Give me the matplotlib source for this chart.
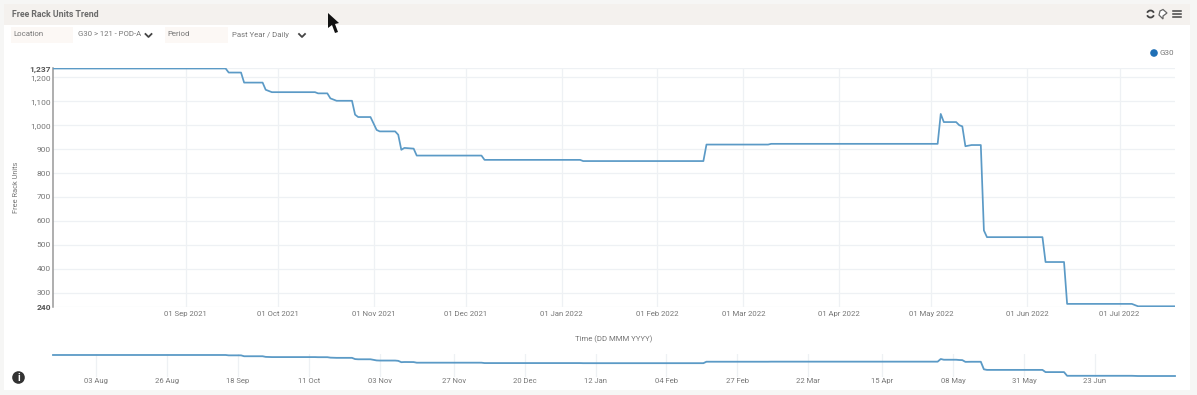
import matplotlib
matplotlib.use("Agg")
import matplotlib.dates as mdates
import matplotlib.pyplot as plt
import pandas as pd
from matplotlib.patches import Arc, Circle, Polygon, Rectangle

plt.rcParams['font.family'] = ['Roboto', 'DejaVu Sans']

WIDTH, HEIGHT = 1197, 395
TEXT = "#777777"
LINE = "#5b9ac6"
GRID = "#eef1f4"

dates = ["2021-07-20", "2021-09-14", "2021-09-15", "2021-09-19", "2021-09-20", "2021-09-26",
         "2021-09-27", "2021-09-29", "2021-10-13", "2021-10-14", "2021-10-17", "2021-10-18",
         "2021-10-20", "2021-10-25", "2021-10-26", "2021-10-27", "2021-10-31", "2021-11-02",
         "2021-11-03", "2021-11-08", "2021-11-09", "2021-11-10", "2021-11-11", "2021-11-14",
         "2021-11-15", "2021-12-06", "2021-12-07", "2022-01-07", "2022-01-08", "2022-02-16",
         "2022-02-17", "2022-03-09", "2022-03-10", "2022-05-03", "2022-05-04", "2022-05-05",
         "2022-05-09", "2022-05-10", "2022-05-11", "2022-05-12", "2022-05-14", "2022-05-17",
         "2022-05-18", "2022-05-19", "2022-06-06", "2022-06-07", "2022-06-13", "2022-06-14",
         "2022-07-05", "2022-07-07", "2022-07-19"]
free_units = [1237, 1237, 1220, 1220, 1178, 1178,
              1148, 1138, 1138, 1133, 1133, 1112,
              1102, 1102, 1044, 1034, 1034, 980,
              974, 974, 960, 897, 905, 902,
              873, 873, 855, 855, 850, 850,
              919, 919, 922, 922, 1047, 1013,
              1013, 1000, 995, 912, 917, 917,
              560, 532, 532, 428, 428, 253,
              253, 243, 243]

main_ticks = ["2021-09-01", "2021-10-01", "2021-11-01", "2021-12-01", "2022-01-01", "2022-02-01",
              "2022-03-01", "2022-04-01", "2022-05-01", "2022-06-01", "2022-07-01"]
nav_ticks = ["2021-08-03", "2021-08-26", "2021-09-18", "2021-10-11", "2021-11-03", "2021-11-27",
             "2021-12-20", "2022-01-12", "2022-02-04", "2022-02-27", "2022-03-22", "2022-04-15",
             "2022-05-08", "2022-05-31", "2022-06-23"]
y_ticks = [240, 300, 400, 500, 600, 700, 800, 900, 1000, 1100, 1200, 1237]


def px_axes(fig, left, top, right, bottom):
    """Axes placed by reference pixel edges"""
    return fig.add_axes([left / WIDTH, 1 - bottom / HEIGHT, (right - left) / WIDTH, (bottom - top) / HEIGHT])


x = pd.to_datetime(dates)
x_start, x_end = pd.Timestamp("2021-07-20"), pd.Timestamp("2022-07-19")

fig = plt.figure(figsize=(WIDTH / 100, HEIGHT / 100), dpi=100, facecolor="#f6f6f5")

# page furniture in pixel coordinates
bg = fig.add_axes([0, 0, 1, 1], zorder=0)
bg.set_xlim(0, WIDTH)
bg.set_ylim(HEIGHT, 0)
bg.axis("off")
bg.add_patch(Rectangle((4, 4), 1186, 386, fc="white", ec="none"))
bg.add_patch(Rectangle((4, 4), 1186, 21, fc="#f4f1ee", ec="none"))
bg.add_patch(Rectangle((11, 27), 62, 16, fc="#fcf8f5", ec="none"))
bg.add_patch(Rectangle((165, 27), 63, 16, fc="#fcf8f5", ec="none"))
bg.text(11.5, 14.5, "Free Rack Units Trend", fontsize=6.3, fontweight="bold", color="#6a6a6a", va="center")
bg.text(13, 34.5, "Location", fontsize=5.7, color=TEXT, va="center")
bg.text(78, 34.5, "G30 > 121 - POD-A", fontsize=5.6, color=TEXT, va="center")
bg.text(167, 34.5, "Period", fontsize=5.7, color=TEXT, va="center")
bg.text(232, 34.5, "Past Year / Daily", fontsize=5.6, color=TEXT, va="center")
for cx in (148.5, 302):
    bg.plot([cx - 3, cx, cx + 3], [34, 37, 34], color="#444444", lw=1.3)

# header icons
bg.add_patch(Arc((1150.5, 14), 7, 7, theta1=20, theta2=160, ec="#444444", lw=1.3))
bg.add_patch(Arc((1150.5, 14), 7, 7, theta1=200, theta2=340, ec="#444444", lw=1.3))
bg.add_patch(Polygon([(1163, 9.5), (1167, 13), (1163, 16), (1163, 19), (1159, 15), (1160, 11)],
                     fc="white", ec="#666666", lw=0.9))
for hy in (11, 14, 17):
    bg.plot([1173, 1181], [hy, hy], color="#444444", lw=1.1)

# legend
bg.add_patch(Circle((1154, 53), 3.8, fc="#1f6fb5", ec="none"))
bg.text(1160, 53, "G30", fontsize=5.8, color=TEXT, va="center")

# info icon and mouse cursor
bg.add_patch(Circle((18.5, 377.5), 6.3, fc="#333333", ec="none"))
bg.text(18.5, 377.7, "i", fontsize=7.5, fontweight="bold", color="white", ha="center", va="center")
bg.add_patch(Polygon([(328, 13), (328, 28), (332, 25), (335, 33), (338, 32), (335, 24), (339, 23)],
                     fc="#111111", ec="none", zorder=5))

# main chart, small headroom so the flat top of the line stays visible
ax = px_axes(fig, 53, 68, 1175, 307)
ax.patch.set_alpha(0)
ax.plot(x, free_units, color=LINE, lw=1.25, solid_joinstyle="round", zorder=3)
ax.set_xlim(x_start, x_end)
ax.set_ylim(240, 1239)
ax.set_yticks(y_ticks)
ax.set_yticklabels([f"{v:,}" for v in y_ticks], fontsize=6, color=TEXT)
for label in (ax.get_yticklabels()[0], ax.get_yticklabels()[-1]):
    label.set_fontweight("bold")
    label.set_color("#555555")
ax.set_xticks(pd.to_datetime(main_ticks))
ax.xaxis.set_major_formatter(mdates.DateFormatter("%d %b %Y"))
ax.tick_params(axis="x", length=0, pad=3, labelsize=5.6, labelcolor=TEXT)
ax.tick_params(axis="y", length=0, pad=1.5)
ax.grid(True, color=GRID, lw=0.9)
ax.set_axisbelow(True)
for side in ("top", "right", "bottom"):
    ax.spines[side].set_visible(False)
ax.spines["left"].set_color("#999999")
ax.spines["left"].set_linewidth(1.1)
bg.text(16, 187.5, "Free Rack Units", fontsize=5.3, color=TEXT, rotation=90, ha="center", va="center")
bg.text(614, 339, "Time (DD MMM YYYY)", fontsize=5.6, color=TEXT, ha="center", va="center")

# navigator strip
nav = px_axes(fig, 53, 354, 1175, 377)
nav.patch.set_alpha(0)
nav.plot(x, free_units, color=LINE, lw=1.3, clip_on=False)
nav.set_xlim(x_start, x_end)
nav.set_ylim(196, 1284)
nav.set_yticks([])
nav.set_xticks(pd.to_datetime(nav_ticks))
nav.xaxis.set_major_formatter(mdates.DateFormatter("%d %b"))
nav.tick_params(axis="x", length=0, pad=0.5, labelsize=5.5, labelcolor=TEXT)
nav.grid(True, axis="x", color=GRID, lw=0.9)
nav.set_axisbelow(True)
for spine in nav.spines.values():
    spine.set_visible(False)

fig.savefig("out.png", dpi=100, facecolor=fig.get_facecolor())
